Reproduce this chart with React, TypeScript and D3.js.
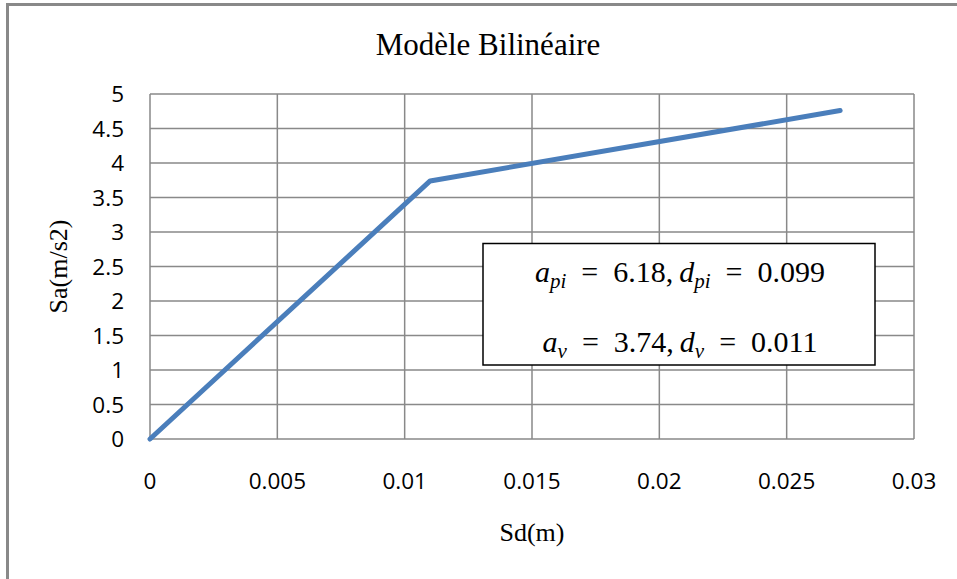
import * as d3 from 'd3'
import React from 'react'

// bilinear curve points (Sd in m, Sa in m/s2)
const sdValues = [0, 0.011, 0.0271]
const saValues = [0, 3.74, 4.76]
const xTicks = [0, 0.005, 0.01, 0.015, 0.02, 0.025, 0.03]
const yTicks = [0, 0.5, 1, 1.5, 2, 2.5, 3, 3.5, 4, 4.5, 5]
const boxLines = [
  { a: 'pi', aVal: '6.18', d: 'pi', dVal: '0.099' },
  { a: 'v', aVal: '3.74', d: 'v', dVal: '0.011' },
]

const W = 957
const H = 579

export default function App() {
  const ref = React.useRef<SVGSVGElement>(null)

  React.useEffect(() => {
    const svg = d3.select(ref.current)
    svg.selectAll('*').remove()

    const left = 150, right = 914, top = 94, bottom = 439
    const x = d3.scaleLinear().domain([0, 0.03]).range([left, right])
    const y = d3.scaleLinear().domain([0, 5]).range([bottom, top])
    const gray = '#898989'
    const tickFont = '"Open Sans", "Noto Sans", sans-serif'
    const serif = '"Liberation Serif", "Times New Roman", serif'

    svg.append('rect').attr('width', W).attr('height', H).attr('fill', '#fff')

    // outer chart border (only top and left visible)
    svg.append('line').attr('x1', 6).attr('x2', W).attr('y1', 4.5).attr('y2', 4.5)
      .attr('stroke', gray).attr('stroke-width', 3)
    svg.append('line').attr('x1', 7.5).attr('x2', 7.5).attr('y1', 3).attr('y2', H)
      .attr('stroke', gray).attr('stroke-width', 3)

    // grid
    const grid = svg.append('g').attr('stroke', gray).attr('stroke-width', 1.5)
    grid.selectAll('.vx').data(xTicks).enter().append('line')
      .attr('x1', d => x(d)).attr('x2', d => x(d)).attr('y1', top).attr('y2', bottom)
    grid.selectAll('.hy').data(yTicks).enter().append('line')
      .attr('x1', left).attr('x2', right).attr('y1', d => y(d)).attr('y2', d => y(d))

    // tick labels
    svg.append('g').selectAll('text').data(yTicks).enter().append('text')
      .attr('x', 124).attr('y', d => y(d)).attr('dy', '0.36em')
      .attr('text-anchor', 'end').attr('font-family', tickFont).attr('font-size', 22.5)
      .text(d => String(d))
    svg.append('g').selectAll('text').data(xTicks).enter().append('text')
      .attr('x', d => x(d)).attr('y', 489)
      .attr('text-anchor', 'middle').attr('font-family', tickFont).attr('font-size', 22.5)
      .text(d => String(d))

    // series
    const pts: [number, number][] = sdValues.map((d, i) => [d, saValues[i]])
    const line = d3.line<[number, number]>().x(d => x(d[0])).y(d => y(d[1]))
    svg.append('path').attr('d', line(pts))
      .attr('fill', 'none').attr('stroke', '#4a7ebb').attr('stroke-width', 5)
      .attr('stroke-linecap', 'round').attr('stroke-linejoin', 'round')

    // titles
    svg.append('text').attr('x', 488).attr('y', 55).attr('text-anchor', 'middle')
      .attr('font-family', serif).attr('font-size', 31).text('Modèle Bilinéaire')
    svg.append('text').attr('transform', `translate(67,${(top + bottom) / 2}) rotate(-90)`)
      .attr('text-anchor', 'middle').attr('font-family', serif).attr('font-size', 26)
      .text('Sa(m/s2)')
    svg.append('text').attr('x', (left + right) / 2).attr('y', 541).attr('text-anchor', 'middle')
      .attr('font-family', serif).attr('font-size', 26).text('Sd(m)')

    // annotation box
    svg.append('rect').attr('x', 483).attr('y', 243.5).attr('width', 392).attr('height', 121.5)
      .attr('fill', '#fff').attr('stroke', '#000').attr('stroke-width', 1.5)
    const ys = [282, 352]
    const sp = '\u2002'
    boxLines.forEach((l, i) => {
      const t = svg.append('text').attr('x', 680).attr('y', ys[i]).attr('text-anchor', 'middle')
        .attr('font-family', serif).attr('font-size', 30)
      t.append('tspan').attr('font-style', 'italic').text('a')
      t.append('tspan').attr('font-style', 'italic').attr('font-size', 21).attr('dy', 6).text(l.a)
      t.append('tspan').attr('dy', -6).text(`${sp}=${sp}${l.aVal},\u2009`)
      t.append('tspan').attr('font-style', 'italic').text('d')
      t.append('tspan').attr('font-style', 'italic').attr('font-size', 21).attr('dy', 6).text(l.d)
      t.append('tspan').attr('dy', -6).text(`${sp}=${sp}${l.dVal}`)
    })
  }, [])

  return (
    <div style={{ position: 'absolute', left: 0, top: 0 }}>
      <svg ref={ref} width={W} height={H} style={{ display: 'block' }} />
    </div>
  )
}
